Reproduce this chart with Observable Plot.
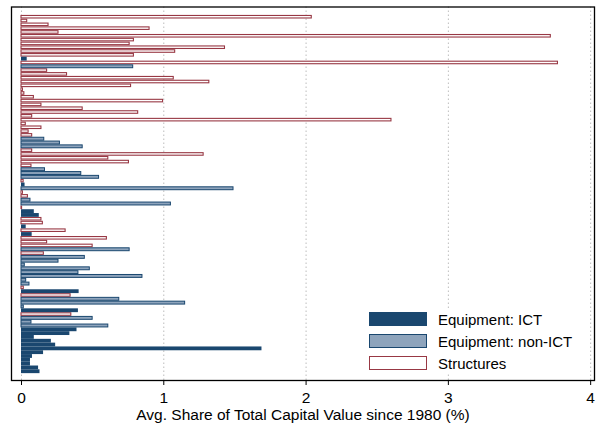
<!DOCTYPE html>
<html>
<head>
<meta charset="utf-8">
<script src="https://cdn.jsdelivr.net/npm/d3@7"></script>
<script src="https://cdn.jsdelivr.net/npm/@observablehq/plot@0.6"></script>
<style>
  html, body { margin: 0; padding: 0; background: #fff; }
  #wrap { position: relative; width: 598px; height: 424px; overflow: hidden; font-family: "Liberation Sans", Arial, Helvetica, sans-serif; }
  #legend { position: absolute; left: 364px; top: 308px; width: 218px; height: 65px; background: #fff; }
  .item { position: absolute; left: 5px; height: 16px; display: flex; align-items: center; }
  .sw { width: 58px; height: 14px; box-sizing: border-box; margin-right: 11px; }
  .lab { font-size: 15px; color: #000; white-space: nowrap; }
</style>
</head>
<body>
<div id="wrap"></div>
<script>
// Series type per row (top to bottom): I = Equipment: ICT, N = Equipment: non-ICT, S = Structures
const rowTypes = [
  "S","S","S","S","S","S","S","S","S","S",
  "S","I","S","N","S","S","S","S","S","S",
  "S","S","S","S","S","S","S","S","S","S",
  "S","S","N","N","N","S","S","S","S","S",
  "N","N","N","S","I","N","S","S","N","N",
  "S","I","I","S","S","I","S","I","S","S",
  "S","N","S","N","N","N","N","N","N","N",
  "N","S","I","S","N","N","N","I","S","N",
  "N","N","I","I","I","I","I","I","I","I",
  "I","I","I","I"
];
// Avg. share of total capital value since 1980 (%), one per row
const rowValues = [
  2.04, 0.04, 0.19, 0.90, 0.26, 3.72, 0.79, 0.76, 1.43, 1.08,
  0.79, 0.04, 3.77, 0.785, 0.18, 0.32, 1.07, 1.32, 0.77, 0.01,
  0.02, 0.087, 0.995, 0.14, 0.43, 0.82, 0.075, 2.60, 0.03, 0.14,
  0.05, 0.075, 0.16, 0.27, 0.43, 0.075, 1.28, 0.61, 0.755, 0.07,
  0.165, 0.42, 0.545, 0.015, 0.025, 1.49, 0.01, 0.045, 0.063, 1.05,
  0.004, 0.09, 0.125, 0.14, 0.15, 0.033, 0.31, 0.075, 0.60, 0.18,
  0.50, 0.76, 0.157, 0.445, 0.26, 0.023, 0.48, 0.40, 0.85, 0.033,
  0.056, 0.016, 0.405, 0.345, 0.687, 1.15, 0.016, 0.40, 0.35, 0.50,
  0.07, 0.61, 0.39, 0.34, 0.09, 0.21, 0.24, 1.69, 0.155, 0.077,
  0.063, 0.063, 0.12, 0.13
];
const xTicks = [0, 1, 2, 3, 4];
const seriesNames = {I: "Equipment: ICT", N: "Equipment: non-ICT", S: "Structures"};
const xTitle = "Avg. Share of Total Capital Value since 1980 (%)";

const rows = rowValues.map((v, k) => ({row: k + 1, value: v, type: rowTypes[k]}));
const ofType = t => rows.filter(d => d.type === t);

const colICT = "#1a476f";
const colNonFill = "#8ea4bc";
const colStruct = "#983844";

const chart = Plot.plot({
  width: 598,
  height: 424,
  marginLeft: 11,
  marginRight: 4,
  marginTop: 6.5,
  marginBottom: 44,
  style: {fontFamily: "'Liberation Sans', Arial, Helvetica, sans-serif", fontSize: "15.5px", color: "#000", background: "#fff"},
  x: {domain: [-0.0703, 4.027], ticks: xTicks},
  y: {domain: [-1.68, 96.3], reverse: true, axis: null},
  marks: [
    Plot.ruleX(xTicks, {stroke: "#bdbdbd", strokeWidth: 1, strokeDasharray: "1.5,2.5"}),
    Plot.rect(ofType("S"), {x1: 0, x2: "value", y1: d => d.row - 0.33, y2: d => d.row + 0.33, fill: "#fff", stroke: colStruct, strokeWidth: 1.1}),
    Plot.rect(ofType("N"), {x1: 0, x2: "value", y1: d => d.row - 0.38, y2: d => d.row + 0.38, fill: colNonFill, stroke: colICT, strokeWidth: 1}),
    Plot.rect(ofType("I"), {x1: 0, x2: "value", y1: d => d.row - 0.5, y2: d => d.row + 0.5, fill: colICT}),
    Plot.frame({stroke: "#000", strokeWidth: 1.3}),
    Plot.axisX({ticks: xTicks, tickSize: 5, tickPadding: 6, label: null, tickFormat: d => String(d)}),
    Plot.text([xTitle], {frameAnchor: "bottom", dy: 35, lineAnchor: "middle", fontSize: 15.5, fill: "#000"})
  ]
});

const wrap = document.getElementById("wrap");
wrap.appendChild(chart);

const legend = document.createElement("div");
legend.id = "legend";
const legendItems = [
  {t: "I", top: 3, style: `background:${colICT};`},
  {t: "N", top: 25, style: `background:${colNonFill};border:1px solid ${colICT};`},
  {t: "S", top: 47, style: `background:#fff;border:1px solid ${colStruct};`}
];
for (const it of legendItems) {
  const row = document.createElement("div");
  row.className = "item";
  row.style.top = it.top + "px";
  row.innerHTML = `<div class="sw" style="${it.style}"></div><span class="lab">${seriesNames[it.t]}</span>`;
  legend.appendChild(row);
}
wrap.appendChild(legend);
</script>
</body>
</html>
